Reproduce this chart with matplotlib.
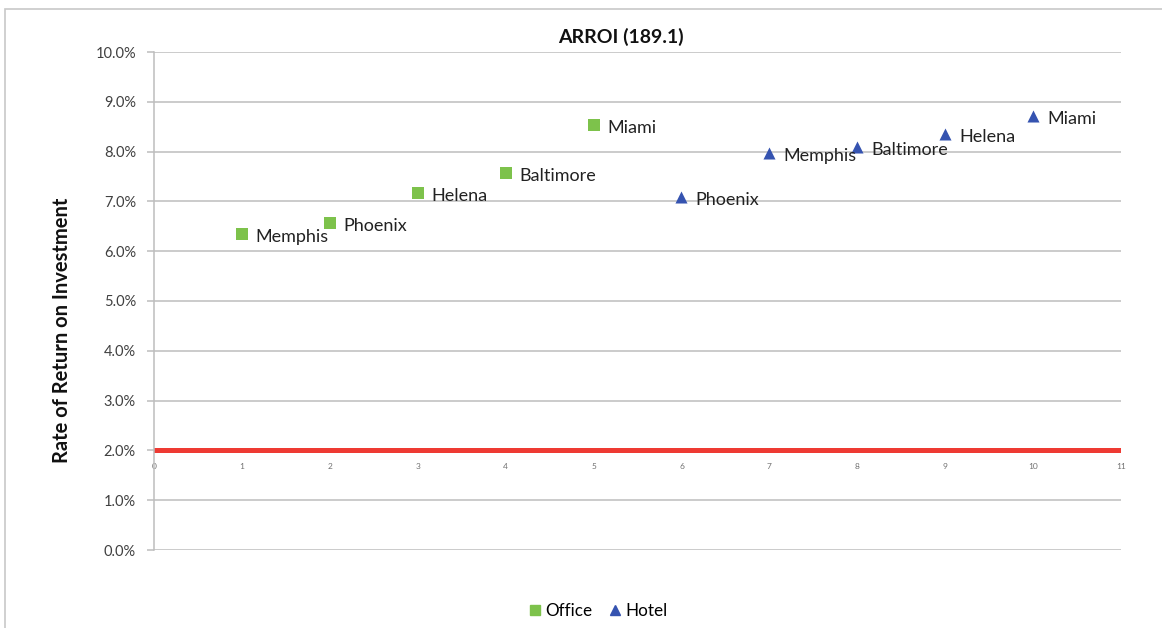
import matplotlib
matplotlib.use("Agg")
import matplotlib.pyplot as plt
import matplotlib.patches as patches
from matplotlib.lines import Line2D
from matplotlib.ticker import FuncFormatter

plt.rcParams['font.family'] = ['Lato', 'DejaVu Sans']

# data (percent)
office_x = [1, 2, 3, 4, 5]
office_y = [6.35, 6.57, 7.17, 7.57, 8.53]
office_labels = ["Memphis", "Phoenix", "Helena", "Baltimore", "Miami"]

hotel_x = [6, 7, 8, 9, 10]
hotel_y = [7.08, 7.97, 8.09, 8.35, 8.71]
hotel_labels = ["Phoenix", "Memphis", "Baltimore", "Helena", "Miami"]

hurdle_x = [0, 1, 2, 3, 4, 5, 6, 7, 8, 9, 10, 11]
hurdle_y = [2.0] * 12

x_ticks = list(range(12))
y_ticks = list(range(11))

green = '#7DC24B'
blue = '#3553B0'
red = '#EE3A33'
grid_c = '#BDBDBD'
text_c = '#404040'

fig = plt.figure(figsize=(11.62, 6.28), dpi=100)
ax = fig.add_axes([154/1162, 1-550/628, 967/1162, 498/628])

# outer chart frame
fig.patches.append(patches.Rectangle((5/1162, -0.01), 1.0, 1-9/628+0.01,
                                     transform=fig.transFigure, fill=False,
                                     edgecolor='#C8C8C8', linewidth=1.2))

ax.set_xlim(0, 11)
ax.set_ylim(0, 10)

for v in y_ticks:
    ax.axhline(v, color=grid_c, linewidth=1.1, zorder=0)

ax.plot(hurdle_x, hurdle_y, color=red, linewidth=3.6, solid_capstyle='round', zorder=2)

ax.scatter(office_x, office_y, marker='s', s=70, color=green, zorder=3, linewidths=0)
ax.scatter(hotel_x, hotel_y, marker='^', s=75, color=blue, zorder=3, linewidths=0)

for x, y, lab in zip(office_x, office_y, office_labels):
    ax.annotate(lab, (x, y), xytext=(10, -2), textcoords='offset points',
                va='center', ha='left', fontsize=13, color='#222222')
for x, y, lab in zip(hotel_x, hotel_y, hotel_labels):
    ax.annotate(lab, (x, y), xytext=(10, -2), textcoords='offset points',
                va='center', ha='left', fontsize=13, color='#222222')

# spines
for s in ['top', 'right']:
    ax.spines[s].set_visible(False)
ax.spines['left'].set_color(grid_c)
ax.spines['left'].set_linewidth(1.1)
ax.spines['bottom'].set_position(('data', 2.0))
ax.spines['bottom'].set_visible(False)

ax.set_yticks(y_ticks)
ax.yaxis.set_major_formatter(FuncFormatter(lambda v, p: f"{v:.1f}%"))
ax.tick_params(axis='y', length=5, color=grid_c, width=1.1, labelsize=10.5,
               labelcolor=text_c, pad=8)

ax.set_xticks(x_ticks)
ax.tick_params(axis='x', length=0, labelsize=6, labelcolor='#707070', pad=9)

fig.text(621/1162, 1-37/628, "ARROI (189.1)", fontsize=14, fontweight='bold',
         color='#111111', ha='center', va='center')
fig.text(62/1162, 1-330/628, "Rate of Return on Investment", fontsize=14.5,
         fontweight='bold', color='#111111', ha='center', va='center', rotation=90)

handles = [Line2D([], [], marker='s', linestyle='none', color=green, markersize=7),
           Line2D([], [], marker='^', linestyle='none', color=blue, markersize=7)]
fig.legend(handles, ["Office", "Hotel"], loc='center', bbox_to_anchor=(0.514, 1-611/628),
           ncol=2, frameon=False, fontsize=12.3, handletextpad=0.1, columnspacing=0.8,
           handlelength=1.0)

fig.savefig("out.png", dpi=100, facecolor='white')
